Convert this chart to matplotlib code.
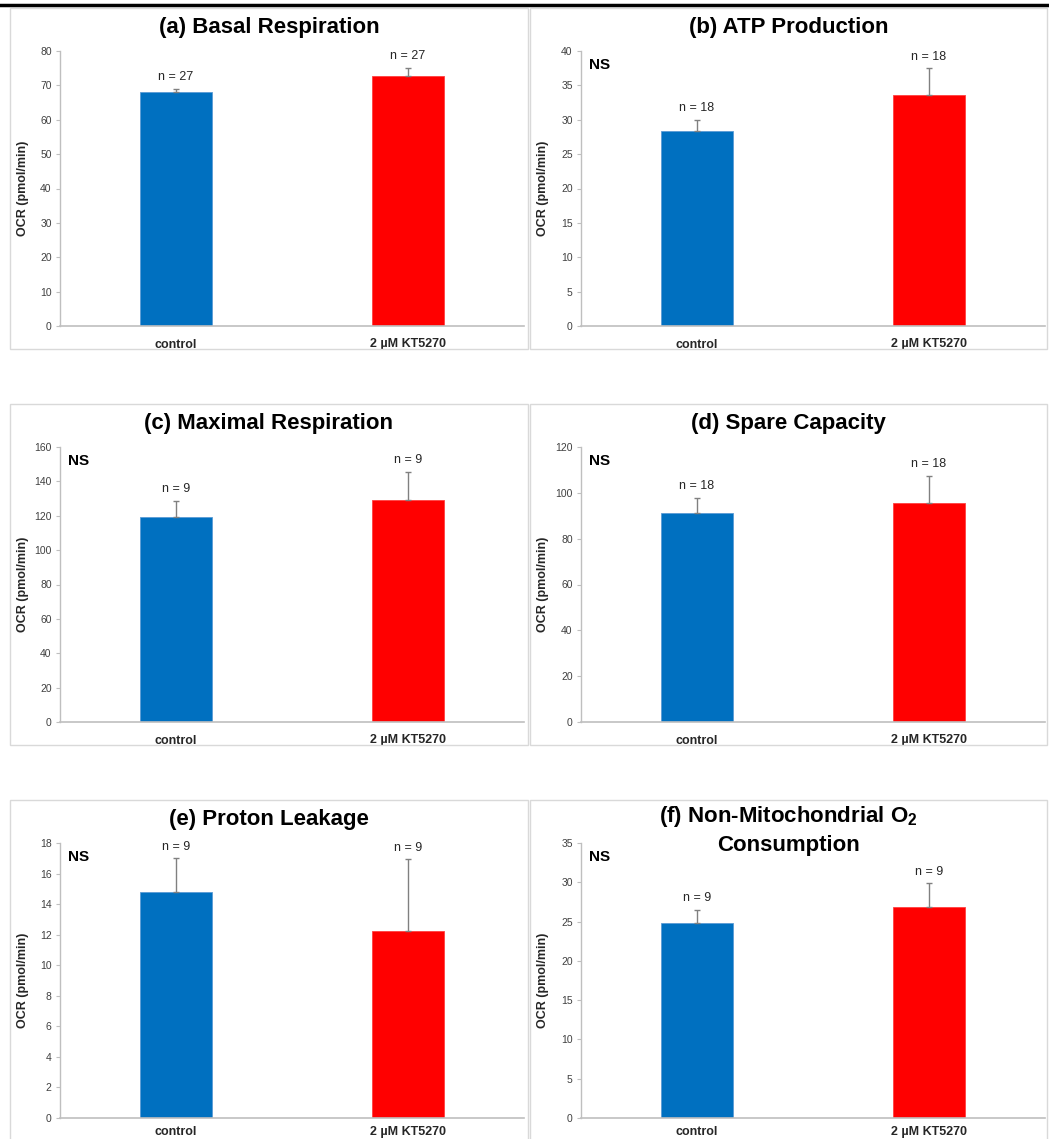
import numpy as np
import matplotlib.pyplot as plt
from matplotlib.patches import Rectangle

plt.rcParams['font.family'] = ['Liberation Sans', 'DejaVu Sans']
plt.rcParams['mathtext.fontset'] = 'custom'
plt.rcParams['mathtext.rm'] = 'Liberation Sans:bold'
plt.rcParams['mathtext.bf'] = 'Liberation Sans:bold'

groups = ['control', '2 µM KT5270']
titles = ['(a) Basal Respiration', '(b) ATP Production', '(c) Maximal Respiration',
          '(d) Spare Capacity', '(e) Proton Leakage',
          '(f) Non-Mitochondrial O$_\\mathbf{2}$\nConsumption']
means = [[68.0, 72.8], [28.3, 33.6], [119.2, 129.0],
         [91.0, 95.5], [14.8, 12.25], [24.8, 26.9]]
errs = [[1.0, 2.4], [1.7, 3.9], [9.5, 16.5],
        [6.8, 12.0], [2.2, 4.7], [1.7, 3.0]]
ns = [[27, 27], [18, 18], [9, 9], [18, 18], [9, 9], [9, 9]]
ymax = [80, 40, 160, 120, 18, 35]
ystep = [10, 5, 20, 20, 2, 5]
show_ns = [False, True, True, True, True, True]

W, H = 1049, 1139
fig = plt.figure(figsize=(W / 100, H / 100), dpi=100)

def fx(px):
    return px / W

def fy(py):
    return 1 - py / H

# top rule
fig.add_artist(plt.Line2D([0, 1], [fy(4.5), fy(4.5)], color='black', lw=2.5))

colors = ['#0070C0', '#FF0000']
gray = '#BFBFBF'

for k in range(6):
    row, col = k // 2, k % 2
    oy = row * 396
    bx0 = 10 if col == 0 else 530
    bx1 = 528 if col == 0 else 1047
    by0, by1 = 8 + oy, 349 + oy
    fig.add_artist(Rectangle((fx(bx0), fy(by1)), fx(bx1 - bx0), (by1 - by0) / H,
                             fill=False, edgecolor='#D9D9D9', lw=1.0))

    ax_l = 60 if col == 0 else 581
    ax_r = ax_l + 464
    ax_t, ax_b = 51 + oy, 326 + oy
    ax = fig.add_axes([fx(ax_l), fy(ax_b), fx(ax_r - ax_l), (ax_b - ax_t) / H])

    x = np.arange(2)
    ax.bar(x, means[k], width=0.31, color=colors, edgecolor=['#5B9BD5', '#FF4040'],
           linewidth=0.6, zorder=2)
    ax.errorbar(x, means[k], yerr=[[0, 0], errs[k]], fmt='none', ecolor='#808080',
                elinewidth=1.0, capsize=2.5, capthick=1.0, zorder=3)
    for i in range(2):
        ax.text(x[i], means[k][i] + errs[k][i] + ymax[k] * 0.02, 'n = %d' % ns[k][i],
                ha='center', va='bottom', fontsize=9, color='#262626')

    ax.set_xlim(-0.5, 1.5)
    ax.set_ylim(0, ymax[k])
    ax.set_yticks(np.arange(0, ymax[k] + 0.01, ystep[k]))
    ax.set_xticks(x)
    ax.set_xticklabels(groups, fontsize=9, fontweight='bold', color='#262626')
    # last row sits at the bottom edge of the page
    ax.tick_params(axis='x', length=0, pad=9 if row < 2 else 6)
    ax.tick_params(axis='y', length=3, width=0.8, color=gray, labelsize=7.5,
                   labelcolor='#404040', pad=3)
    for s in ['top', 'right']:
        ax.spines[s].set_visible(False)
    ax.spines['left'].set_color(gray)
    ax.spines['bottom'].set_color(gray)
    ax.spines['left'].set_linewidth(1.0)
    ax.spines['bottom'].set_linewidth(1.2)
    ax.set_ylabel('OCR (pmol/min)', fontsize=9, fontweight='bold', color='#262626')
    ax.yaxis.set_label_coords((bx0 + 19 - ax_l) / (ax_r - ax_l), 0.5)

    if show_ns[k]:
        fig.text(fx(ax_l + 8), fy(ax_t + 14), 'NS', fontsize=11, fontweight='bold',
                 ha='left', va='center')

    cx = (bx0 + bx1) / 2
    if k == 5:
        fig.text(fx(cx), fy(by0 + 30), titles[k], fontsize=16, fontweight='bold',
                 ha='center', va='center', linespacing=1.35)
    else:
        fig.text(fx(cx), fy(by0 + 19), titles[k], fontsize=16, fontweight='bold',
                 ha='center', va='center')

fig.savefig('out.png', dpi=100)
